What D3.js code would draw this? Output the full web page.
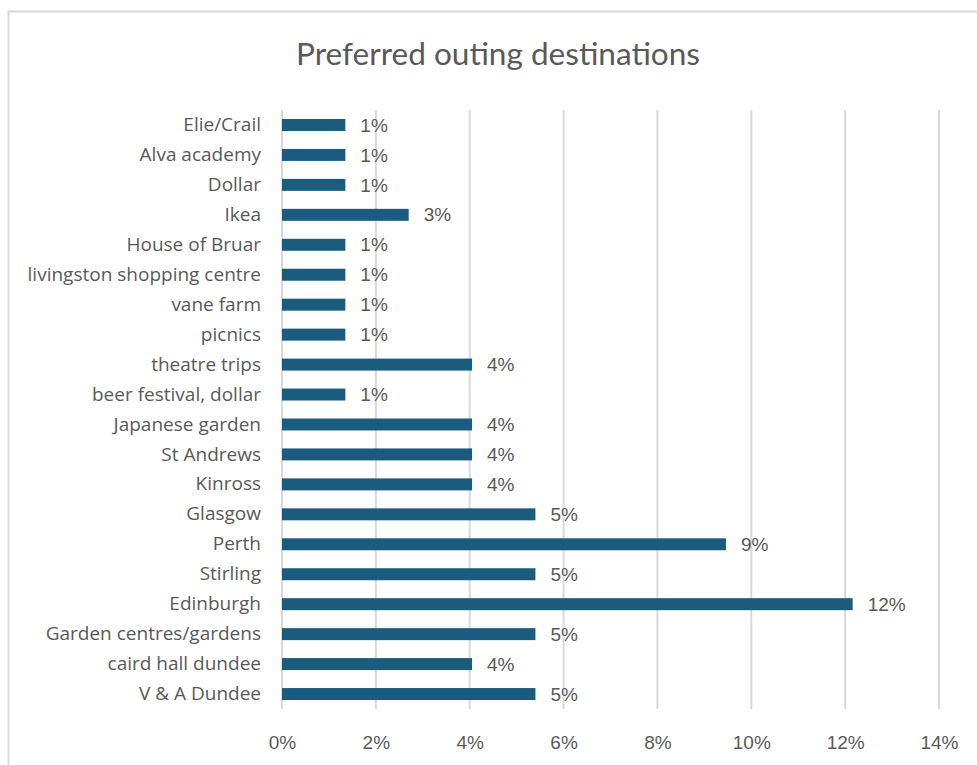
<!DOCTYPE html>
<html>
<head>
<meta charset="utf-8">
<script src="https://cdn.jsdelivr.net/npm/d3@7"></script>
<style>
  html, body { margin: 0; padding: 0; background: #fff; }
  svg { display: block; }
</style>
</head>
<body>
<svg id="chart" width="977" height="765"></svg>
<script>
// Destinations, listed top to bottom
const categories = [
  "Elie/Crail", "Alva academy", "Dollar", "Ikea", "House of Bruar",
  "livingston shopping centre", "vane farm", "picnics", "theatre trips",
  "beer festival, dollar", "Japanese garden", "St Andrews", "Kinross",
  "Glasgow", "Perth", "Stirling", "Edinburgh", "Garden centres/gardens",
  "caird hall dundee", "V & A Dundee"
];
// Share of responses (fraction)
const shares = [
  0.0135, 0.0135, 0.0135, 0.027, 0.0135,
  0.0135, 0.0135, 0.0135, 0.0405,
  0.0135, 0.0405, 0.0405, 0.0405,
  0.054, 0.0946, 0.054, 0.1216, 0.054,
  0.0405, 0.054
];
const xTicks = [0, 0.02, 0.04, 0.06, 0.08, 0.10, 0.12, 0.14];
const title = "Preferred outing destinations";

const data = categories.map((c, i) => ({ name: c, value: shares[i] }));

const svg = d3.select("#chart");
const textColor = "#595959";
const gridColor = "#d9d9d9";
const barColor = "#1b5c7e";

// Chart frame
svg.append("path")
  .attr("d", "M8.5,765 L8.5,11.5 L977,11.5")
  .attr("fill", "none")
  .attr("stroke", gridColor)
  .attr("stroke-width", 2);

// Title
svg.append("text")
  .attr("x", 498)
  .attr("y", 65)
  .attr("text-anchor", "middle")
  .attr("font-family", "Lato, 'Open Sans', sans-serif")
  .attr("font-size", 30)
  .attr("fill", textColor)
  .attr("textLength", 404)
  .attr("lengthAdjust", "spacingAndGlyphs")
  .text(title);

const plot = { left: 282, right: 939, top: 110, bottom: 709 };

const x = d3.scaleLinear().domain([0, 0.14]).range([plot.left, plot.right]);
const y = d3.scaleBand().domain(categories).range([plot.top, plot.bottom]).paddingInner(0.6).paddingOuter(0.3);

// Vertical gridlines
svg.append("g")
  .selectAll("line")
  .data(xTicks)
  .join("line")
  .attr("x1", d => x(d)).attr("x2", d => x(d))
  .attr("y1", plot.top).attr("y2", plot.bottom)
  .attr("stroke", gridColor)
  .attr("stroke-width", 2);

// X axis tick labels
const xAxis = d3.axisBottom(x).tickValues(xTicks).tickFormat(d3.format(".0%")).tickSize(0).tickPadding(0);
const gx = svg.append("g").attr("transform", `translate(0,${plot.bottom})`).call(xAxis);
gx.select(".domain").remove();
gx.selectAll("text")
  .attr("dy", 0)
  .attr("y", 40)
  .attr("font-family", "'Liberation Sans', Arial, sans-serif")
  .attr("font-size", 19)
  .attr("fill", textColor);

// Category labels
const yAxis = d3.axisLeft(y).tickSize(0).tickPadding(0);
const gy = svg.append("g").attr("transform", `translate(${plot.left - 21},0)`).call(yAxis);
gy.select(".domain").remove();
gy.selectAll("text")
  .attr("font-family", "'Open Sans', sans-serif")
  .attr("font-size", 19)
  .attr("fill", textColor);

// Bars
svg.append("g")
  .selectAll("rect")
  .data(data)
  .join("rect")
  .attr("x", x(0))
  .attr("y", d => y(d.name))
  .attr("width", d => x(d.value) - x(0))
  .attr("height", y.bandwidth())
  .attr("fill", barColor);

// Value labels
svg.append("g")
  .selectAll("text")
  .data(data)
  .join("text")
  .attr("x", d => x(d.value) + 15)
  .attr("y", d => y(d.name) + y.bandwidth() / 2)
  .attr("dy", "0.35em")
  .attr("font-family", "'Liberation Sans', Arial, sans-serif")
  .attr("font-size", 19)
  .attr("fill", textColor)
  .text(d => d3.format(".0%")(d.value));
</script>
</body>
</html>
